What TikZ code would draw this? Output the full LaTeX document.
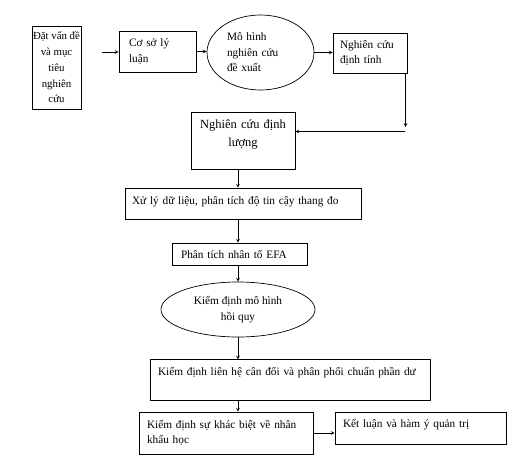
\documentclass[tikz,border=0pt]{standalone}
\usepackage{fontspec}
\setmainfont{Liberation Serif}
\usepackage{tikz}
\usetikzlibrary{arrows, positioning, shapes.geometric}
\tikzset{>=stealth}

\begin{document}
\begin{tikzpicture}[>=stealth, x=1pt, y=-1pt,
	hop/.style={draw, rectangle, line width=0.7pt, inner ysep=0pt, font=\fontsize{11.3}{15.5}\selectfont},
	elip/.style={draw, ellipse, line width=0.7pt, inner sep=0pt, font=\fontsize{11.3}{15.5}\selectfont},
	mui/.style={->, line width=0.7pt}]

			\useasboundingbox (0,0) rectangle (527,467);

			\node[hop, inner xsep=0pt, align=center, minimum width=49pt, minimum height=83pt, font=\fontsize{10.8}{15.8}\selectfont] (datvande) at (56.5,67.5) {Đặt vấn đề\\và mục\\tiêu\\nghiên\\cứu};
			\node[hop, inner xsep=10pt, text width=57pt, align=left, minimum height=41pt] (coso) at (157.5,51.5) {Cơ sở lý\\luận};
			\node[elip, text width=67pt, align=left, minimum width=107pt, minimum height=75pt] (mohinh) at (260.5,52.5) {Mô hình\\nghiên cứu\\đề xuất};
			\node[hop, inner xsep=7pt, text width=60pt, align=left, minimum height=40pt] (dinhtinh) at (370,53) {Nghiên cứu\\định tính};
			\node[hop, inner xsep=0pt, text width=104pt, align=center, text height=16pt, text depth=41pt, font=\fontsize{12.5}{18}\selectfont] (dinhluong) at (243,140.5) {Nghiên cứu định\\lượng};
			\node[hop, inner xsep=7pt, text width=222pt, align=left, text height=16pt, text depth=15pt] (xuly) at (243,203.5) {Xử lý dữ liệu, phân tích độ tin cậy thang đo};
			\node[hop, inner xsep=9pt, text width=117pt, align=left, minimum height=22pt] (efa) at (239.5,254) {Phân tích nhân tố EFA};
			\node[elip, align=center, minimum width=154pt, minimum height=55pt] (hoiquy) at (238,309.5) {Kiểm định mô hình\\hồi quy};
			\node[hop, inner xsep=8pt, text width=264pt, align=left, text height=16pt, text depth=24.5pt] (kiemdinh) at (290,380) {Kiểm định liên hệ cân đối và phân phối chuẩn phần dư};
			\node[hop, inner xsep=8pt, text width=158pt, align=left, minimum height=42pt] (nhankhau) at (226,433) {Kiểm định sự khác biệt về nhân\\khẩu học};
			\node[hop, inner xsep=8pt, text width=155pt, align=left, text height=15pt, text depth=17pt] (ketluan) at (420.5,428) {Kết luận và hàm ý quản trị};

			\coordinate (batdau) at (102,52);
			\coordinate (goc1) at (405.5,127);
			\coordinate (goc2) at (405,131.5);
			\coordinate (truc) at (238,0);

			\draw [mui] (batdau) -- (batdau -| coso.west);
			\draw [mui] (coso.east) -- (coso.east -| mohinh.west);
			\draw [mui] (mohinh.east) -- (mohinh.east -| dinhtinh.west);
			\draw [mui] (goc1 |- dinhtinh.south) -- (goc1);
			\draw [mui] (goc2) -- (goc2 -| dinhluong.east);
			\draw [mui] (truc |- dinhluong.south) -- (truc |- xuly.north);
			\draw [mui] (truc |- xuly.south) -- (truc |- efa.north);
			\draw [mui] (truc |- efa.south) -- (hoiquy.north);
			\draw [mui] (hoiquy.south) -- (truc |- kiemdinh.north);
			\draw [mui] (truc |- kiemdinh.south) -- (truc |- nhankhau.north);
			\draw [mui] (nhankhau.east) -- (nhankhau.east -| ketluan.west);

\end{tikzpicture}
\end{document}
